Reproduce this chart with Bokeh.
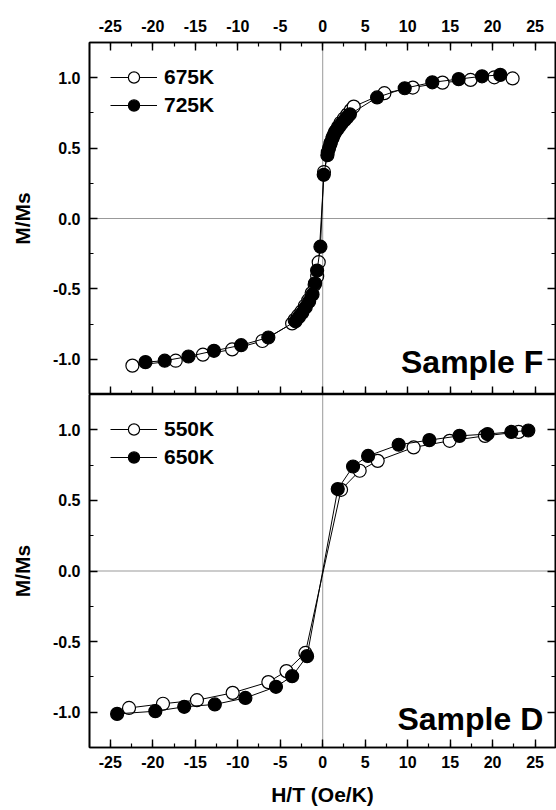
from bokeh.plotting import figure
from bokeh.layouts import column
from bokeh.models import (LinearAxis, Range1d, SingleIntervalTicker, PrintfTickFormatter,
                          Span, Legend, LegendItem, Label, CustomLabelingPolicy)
from bokeh.embed import file_html
from bokeh.resources import INLINE

FONT = "Liberation Sans"

# ---- Sample F : reduced magnetisation vs H/T ----
f675_h = [-22.4, -17.3, -14.1, -10.66, -7.1, -3.6, -3.3, -2.9, -2.5, -2.1, -1.7, -1.3, -0.95, -0.65, -0.47,
          0.15, 0.6, 0.9, 1.2, 1.5, 1.8, 2.1, 2.5, 2.9, 3.3, 3.65, 7.26, 10.6, 14.1, 17.4, 20.2, 22.35]
f675_m = [-1.045, -1.01, -0.967, -0.93, -0.87, -0.745, -0.72, -0.69, -0.66, -0.62, -0.58, -0.53, -0.47, -0.41, -0.31,
          0.33, 0.47, 0.53, 0.58, 0.62, 0.65, 0.68, 0.71, 0.74, 0.77, 0.795, 0.89, 0.93, 0.965, 0.984, 1.003, 0.995]

f725_h = [-20.86, -18.6, -15.8, -12.8, -9.6, -6.4, -3.2, -2.8, -2.4, -2.0, -1.6, -1.2, -0.9, -0.66, -0.27,
          0.12, 0.55, 0.75, 0.95, 1.15, 1.35, 1.55, 1.8, 2.05, 2.3, 2.6, 2.9, 3.2, 6.4, 9.65, 12.9, 16.0, 18.75, 20.9]
f725_m = [-1.02, -1.01, -0.98, -0.94, -0.90, -0.845, -0.73, -0.70, -0.67, -0.63, -0.59, -0.54, -0.46, -0.37, -0.20,
          0.31, 0.45, 0.50, 0.54, 0.57, 0.60, 0.62, 0.64, 0.66, 0.68, 0.70, 0.72, 0.74, 0.86, 0.925, 0.967, 0.99, 1.01, 1.02]

# ---- Sample D ----
d550_h = [-22.8, -18.8, -14.8, -10.6, -6.4, -4.27, -2.04, 2.16, 4.35, 6.47, 10.7, 14.94, 19.1, 23.06]
d550_m = [-0.97, -0.94, -0.915, -0.863, -0.787, -0.709, -0.58, 0.575, 0.71, 0.78, 0.875, 0.922, 0.957, 0.985]

d650_h = [-24.2, -19.7, -16.3, -12.7, -9.1, -5.5, -3.6, -1.84, 1.77, 3.57, 5.34, 8.94, 12.55, 16.1, 19.4, 22.2, 24.2]
d650_m = [-1.012, -0.993, -0.962, -0.945, -0.899, -0.82, -0.745, -0.603, 0.58, 0.74, 0.815, 0.894, 0.927, 0.957, 0.97, 0.985, 0.995]

x_ticks_step = 5
y_ticks_step = 0.5

# drops every tick label of an axis that only carries ticks
NO_LABELS = CustomLabelingPolicy(code="""
    for (const i of indices) { indices.unset(i) }
    return indices
""")


def style_axis(ax, show_labels=True, fmt="%d"):
    ax.axis_line_width = 1.6
    ax.axis_line_color = "black"
    ax.major_tick_in = 8
    ax.major_tick_out = 0
    ax.minor_tick_in = 4
    ax.minor_tick_out = 0
    ax.major_tick_line_width = 1.4
    ax.minor_tick_line_width = 1.2
    ax.major_tick_line_color = "black"
    ax.minor_tick_line_color = "black"
    ax.major_label_text_font = FONT
    ax.major_label_text_font_style = "bold"
    ax.major_label_text_color = "black"
    ax.axis_label_text_color = "black"
    ax.formatter = PrintfTickFormatter(format=fmt)
    if show_labels:
        ax.major_label_text_font_size = "16px"
    else:
        ax.major_label_text_font_size = "0px"
        ax.major_label_standoff = 0
        ax.major_label_policy = NO_LABELS


def make_panel(top_border, bottom_border, frame_h, top_axis):
    p = figure(frame_width=466, frame_height=frame_h,
               x_range=Range1d(-27.45, 27.4), y_range=Range1d(-1.25, 1.25),
               x_axis_location="above" if top_axis else "below",
               output_backend="svg", toolbar_location=None,
               min_border_left=89, min_border_right=1,
               min_border_top=top_border, min_border_bottom=bottom_border)
    p.grid.visible = False
    p.outline_line_color = "black"
    p.outline_line_width = 1.6
    p.background_fill_color = "white"
    p.border_fill_color = "white"

    xa = p.xaxis[0]
    xa.ticker = SingleIntervalTicker(interval=x_ticks_step, num_minor_ticks=2)
    style_axis(xa, True, "%d")

    ya = p.yaxis[0]
    ya.ticker = SingleIntervalTicker(interval=y_ticks_step, num_minor_ticks=2)
    style_axis(ya, True, "%.1f")
    ya.major_label_standoff = 9
    ya.axis_label = "M/Ms"
    ya.axis_label_text_font = FONT
    ya.axis_label_text_font_style = "bold"
    ya.axis_label_text_font_size = "21px"
    ya.axis_label_standoff = 16

    ry = LinearAxis(ticker=SingleIntervalTicker(interval=y_ticks_step, num_minor_ticks=2))
    style_axis(ry, False, "%.1f")
    p.add_layout(ry, "right")

    # dotted zero lines
    p.add_layout(Span(location=0, dimension="height", line_color="black",
                      line_alpha=0.8, line_width=1, line_dash="1 1"))
    p.add_layout(Span(location=0, dimension="width", line_color="black",
                      line_alpha=0.8, line_width=1, line_dash="1 1"))
    return p


def add_series(p, h, m, filled):
    ln = p.line(h, m, line_color="black", line_width=1)
    sc = p.scatter(h, m, size=13, marker="circle", line_color="black", line_width=1.2,
                   fill_color="black" if filled else "white")
    return ln, sc


def add_legend(p, items):
    leg = Legend(items=[LegendItem(label=lab, renderers=list(rs)) for lab, rs in items],
                 location="top_left", glyph_width=47, glyph_height=28, spacing=0,
                 label_standoff=7, padding=10, margin=21,
                 border_line_color=None, background_fill_alpha=0,
                 label_text_font=FONT, label_text_font_size="21px",
                 label_text_font_style="bold", label_text_color="black", label_height=20)
    p.add_layout(leg)


# top panel: Sample F
top = make_panel(42, 0, 352, True)
top.xaxis[0].major_label_standoff = 11
bx = LinearAxis(ticker=SingleIntervalTicker(interval=x_ticks_step, num_minor_ticks=2))
style_axis(bx, False)
top.add_layout(bx, "below")

o1 = add_series(top, f675_h, f675_m, False)
c1 = add_series(top, f725_h, f725_m, True)
add_legend(top, [("675K", o1), ("725K", c1)])
top.add_layout(Label(x=25.96, y=-1.02, text="Sample F", text_align="right", text_baseline="middle",
                     text_font=FONT, text_font_size="32px", text_font_style="bold",
                     text_color="black"))

# bottom panel: Sample D
bot = make_panel(0, 63, 353, False)
bx2 = bot.xaxis[0]
bx2.major_label_standoff = 8
bx2.axis_label = "H/T (Oe/K)"
bx2.axis_label_text_font = FONT
bx2.axis_label_text_font_style = "bold"
bx2.axis_label_text_font_size = "21px"
bx2.axis_label_standoff = 12

o2 = add_series(bot, d550_h, d550_m, False)
c2 = add_series(bot, d650_h, d650_m, True)
add_legend(bot, [("550K", o2), ("650K", c2)])
bot.add_layout(Label(x=25.96, y=-1.05, text="Sample D", text_align="right", text_baseline="middle",
                     text_font=FONT, text_font_size="32px", text_font_style="bold",
                     text_color="black"))

layout = column(top, bot, spacing=0)
open("out.html", "w").write(file_html(layout, INLINE))
